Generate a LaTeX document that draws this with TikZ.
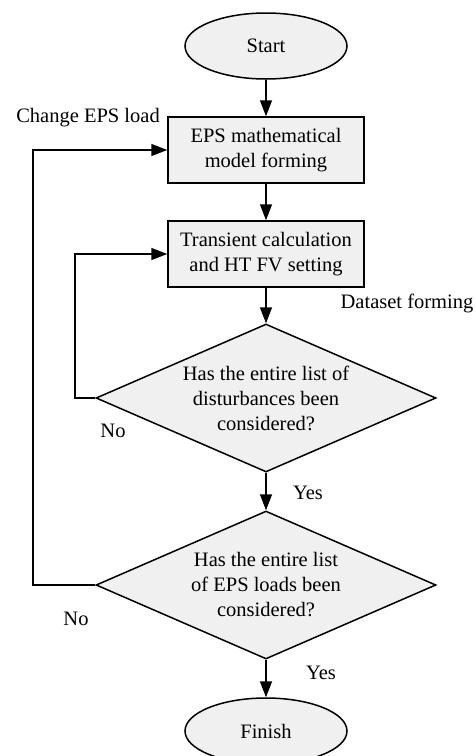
\documentclass[tikz,border=0pt]{standalone}
\usepackage{fontspec}
\setmainfont{Liberation Serif}
\usetikzlibrary{shapes.geometric,arrows.meta}
\definecolor{boxfill}{HTML}{F0F0F0}
\tikzset{
  base/.style={draw=black, line width=1.5pt, fill=boxfill, inner sep=0pt, align=center,
    font=\fontsize{20.5}{25}\selectfont},
  term/.style={base, ellipse, minimum width=162pt, minimum height=66pt},
  proc/.style={base, rectangle, minimum width=196pt, minimum height=66pt},
  dec/.style={base, diamond, shape aspect=2.3, minimum width=340pt, minimum height=148pt},
  conn/.style={line width=1.5pt, -{Triangle[length=16pt,width=12pt]}},
  lbl/.style={font=\fontsize{20.5}{25}\selectfont, inner sep=0pt},
}
\begin{document}
\begin{tikzpicture}[x=1pt,y=-1pt]
\useasboundingbox (0,0) rectangle (475,756);
\clip (0,0) rectangle (475,756);
\node[term] (start) at (266,46) {Start};
\node[proc] (box1) at (266,150) {EPS mathematical\\model forming};
\node[proc] (box2) at (266,254) {Transient calculation\\and HT FV setting};
\node[dec] (d1) at (266,398) {Has the entire list of\\disturbances been\\considered?};
\node[dec] (d2) at (266,585) {Has the entire list\\of EPS loads been\\considered?};
\node[term] (finish) at (266,731) {Finish};

\coordinate (l1) at (75,398);
\coordinate (l2) at (33,585);

\draw[conn] (start) -- (box1);
\draw[conn] (box1) -- (box2);
\draw[conn] (box2) -- (d1);
\draw[conn] (d1) -- (d2);
\draw[conn] (d2) -- (finish);
\draw[conn] (d1.west) -- (l1) |- (box2.west);
\draw[conn] (d2.west) -- (l2) |- (box1.west);

\node[lbl] (chg) at (88,118) {Change EPS load};
\node[lbl] (dset) at (407,303) {Dataset forming};
\node[lbl] (no1) at (113,431) {No};
\node[lbl] (yes1) at (308,493) {Yes};
\node[lbl] (no2) at (76,619) {No};
\node[lbl] (yes2) at (321,673) {Yes};
\end{tikzpicture}
\end{document}
